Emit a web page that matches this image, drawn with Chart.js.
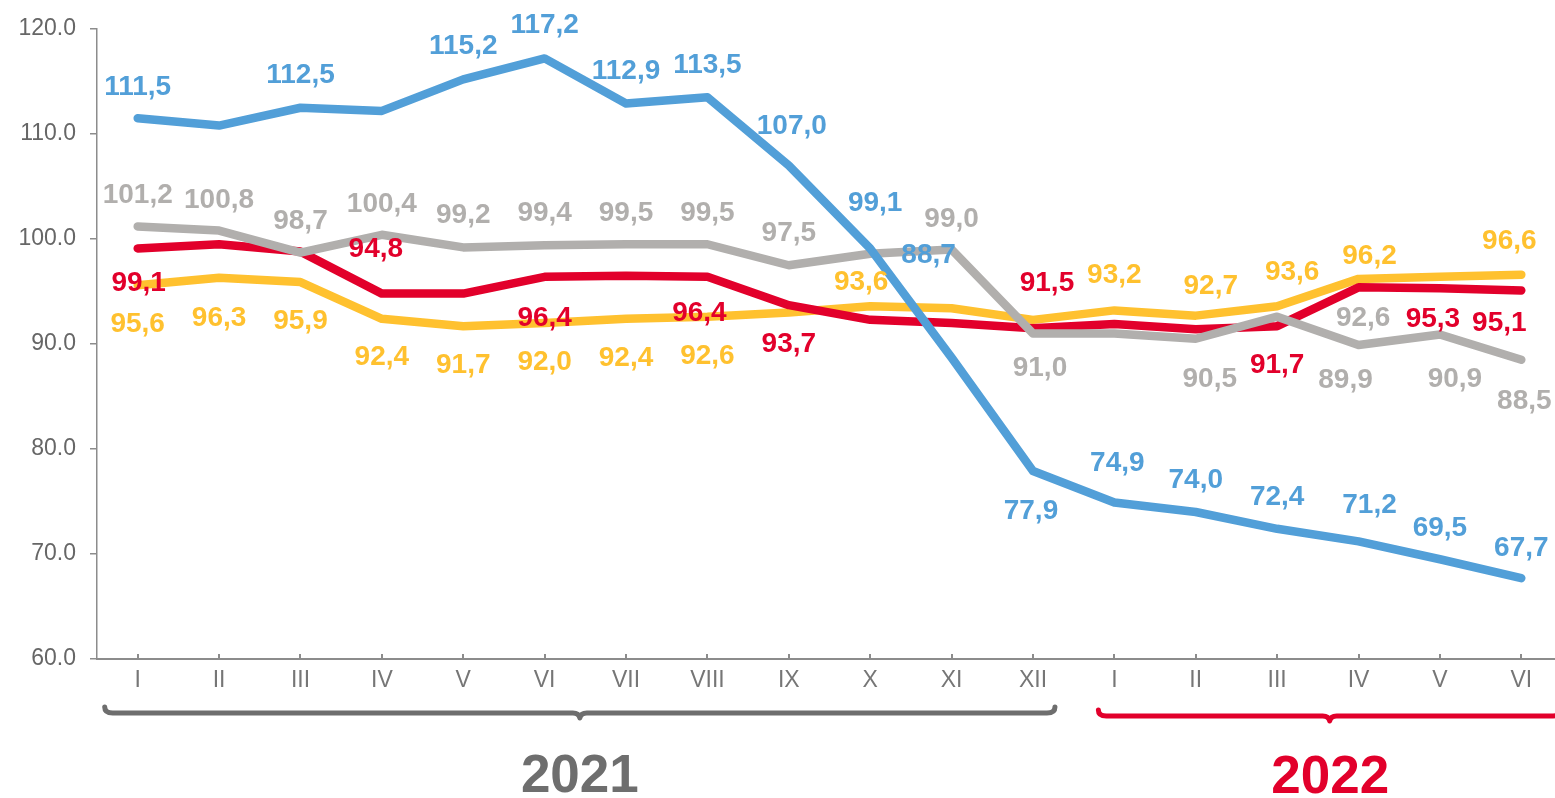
<!DOCTYPE html>
<html>
<head>
<meta charset="utf-8">
<script src="https://cdn.jsdelivr.net/npm/chart.js@4/dist/chart.umd.min.js"></script>
<style>
    html, body { margin: 0; padding: 0; background: #fff; overflow: hidden; }
    #wrap { position: relative; width: 1562px; height: 798px; }
</style>
</head>
<body>
<div id="wrap"><canvas id="chart"></canvas></div>
<script>
(function () {
    'use strict';

    const months = ['I', 'II', 'III', 'IV', 'V', 'VI', 'VII', 'VIII', 'IX', 'X', 'XI', 'XII',
                    'I', 'II', 'III', 'IV', 'V', 'VI'];
    const years  = ['2021', '2022'];

    const blueValues   = [111.5, 110.8, 112.5, 112.2, 115.2, 117.2, 112.9, 113.5, 107.0, 99.1, 88.7, 77.9,
                          74.9, 74.0, 72.4, 71.2, 69.5, 67.7];
    const grayValues   = [101.2, 100.8, 98.7, 100.4, 99.2, 99.4, 99.5, 99.5, 97.5, 98.6, 99.0, 91.0,
                          91.0, 90.5, 92.6, 89.9, 90.9, 88.5];
    const redValues    = [99.1, 99.5, 98.8, 94.8, 94.8, 96.4, 96.5, 96.4, 93.7, 92.3, 92.0, 91.5,
                          91.9, 91.4, 91.7, 95.4, 95.3, 95.1];
    const yellowValues = [95.6, 96.3, 95.9, 92.4, 91.7, 92.0, 92.4, 92.6, 93.0, 93.6, 93.4, 92.3,
                          93.2, 92.7, 93.6, 96.2, 96.4, 96.6];

    const yMin = 60, yMax = 120, yStep = 10;

    // label placement relative to the point (null = no label)
    const blueLabelPos = [[0, -33], null, [0, -35], null, [0, -35], [0, -35], [0, -35], [0, -34], [3, -42],
        [5, -48], [-23, -105], [-2, 38], [3, -42], [0, -34], [0, -34], [11, -38], [0, -33], [0, -32]];
    const grayLabelPos = [[0, -33], [0, -33], [0, -34], [0, -33], [0, -34], [0, -34], [0, -33], [0, -33], [0, -34],
        null, [0, -33], [7, 32], null, [14, 38], [86, -1], [-13, 33], [15, 42], [3, 39]];
    const redLabelPos = [[1, 32], null, null, [-6, -47], null, [0, 39], null, [-8, 34], [0, 37],
        null, null, [14, -47], null, null, [0, 37], null, [-7, 29], [-22, 30]];
    const yellowLabelPos = [[0, 37], [0, 38], [0, 37], [0, 36], [0, 37], [0, 37], [0, 37], [0, 37], null,
        [-9, -26], null, null, [0, -37], [15, -32], [15, -36], [11, -25], null, [-12, -36]];

    const COLORS = {
        blue:   '#529fd8',
        gray:   '#b1afad',
        red:    '#e2002b',
        yellow: '#ffc12f',
        axis:   '#8c8c8c',
        tick:   '#767676',
        y2021:  '#6e6e6e',
    };
    const FONT = '"Liberation Sans", Arial, sans-serif';
    const LABEL_SIZE = 28;

    function fmt(v) { return v.toFixed(1).replace('.', ','); }

    function series(data, color, pos) {
        return {
            data,
            borderColor: color,
            backgroundColor: color,
            borderWidth: 8.5,
            borderCapStyle: 'round',
            borderJoinStyle: 'round',
            pointRadius: 0,
            tension: 0,
            labelPos: pos,
        };
    }

    const valueLabels = {
        id: 'valueLabels',
        afterDatasetsDraw(chart) {
            const ctx = chart.ctx;
            ctx.save();
            ctx.font = `bold ${LABEL_SIZE}px ${FONT}`;
            ctx.textAlign = 'center';
            ctx.textBaseline = 'alphabetic';
            chart.data.datasets.forEach((ds, i) => {
                const meta = chart.getDatasetMeta(i);
                ctx.fillStyle = ds.borderColor;
                meta.data.forEach((pt, j) => {
                    const p = ds.labelPos[j];
                    if (!p) return;
                    ctx.fillText(fmt(ds.data[j]), pt.x + p[0], pt.y + p[1] + LABEL_SIZE * 0.36);
                });
            });
            ctx.restore();
        },
    };

    function brace(ctx, x0, x1, y, color) {
        const xm = (x0 + x1) / 2;
        const r = 8;
        ctx.beginPath();
        ctx.moveTo(x0, y - 6);
        ctx.quadraticCurveTo(x0, y, x0 + r, y);
        ctx.lineTo(xm - 7, y);
        ctx.quadraticCurveTo(xm - 1, y, xm, y + 5);
        ctx.quadraticCurveTo(xm + 1, y, xm + 7, y);
        ctx.lineTo(x1 - r, y);
        ctx.quadraticCurveTo(x1, y, x1, y - 6);
        ctx.strokeStyle = color;
        ctx.lineWidth = 5;
        ctx.lineCap = 'round';
        ctx.lineJoin = 'round';
        ctx.stroke();
    }

    const axisDecor = {
        id: 'axisDecor',
        afterDraw(chart) {
            const ctx = chart.ctx;
            const x = chart.scales.x;
            const area = chart.chartArea;
            ctx.save();

            // small inward ticks on the category axis
            ctx.strokeStyle = COLORS.axis;
            ctx.lineWidth = 2;
            months.forEach((m, i) => {
                const px = Math.round(x.getPixelForTick(i));
                ctx.beginPath();
                ctx.moveTo(px, area.bottom);
                ctx.lineTo(px, area.bottom - 5);
                ctx.stroke();
            });

            // year braces
            const a0 = x.getPixelForValue(0) - 33;
            const a1 = x.getPixelForValue(11) + 22;
            const b0 = x.getPixelForValue(12) - 16;
            const b1 = area.right;
            brace(ctx, a0, a1, 713, COLORS.y2021);
            brace(ctx, b0, b1 - 1, 716, COLORS.red);

            ctx.font = `bold 53px ${FONT}`;
            ctx.textAlign = 'center';
            ctx.textBaseline = 'alphabetic';
            ctx.fillStyle = COLORS.y2021;
            ctx.fillText(years[0], (a0 + a1) / 2, 773 + 53 * 0.36);
            ctx.fillStyle = COLORS.red;
            ctx.fillText(years[1], (b0 + b1) / 2, 774 + 53 * 0.36);

            ctx.restore();
        },
    };

    new Chart(document.getElementById('chart'), {
        type: 'line',
        data: {
            labels: months,
            datasets: [
                series(blueValues, COLORS.blue, blueLabelPos),
                series(grayValues, COLORS.gray, grayLabelPos),
                series(redValues, COLORS.red, redLabelPos),
                series(yellowValues, COLORS.yellow, yellowLabelPos),
            ],
        },
        options: {
            responsive: true,
            maintainAspectRatio: false,
            animation: false,
            layout: { padding: { top: 29, left: 0, right: 0, bottom: 0 } },
            plugins: {
                legend: { display: false },
                tooltip: { enabled: false },
            },
            scales: {
                x: {
                    offset: true,
                    grid: { display: true, drawOnChartArea: false, drawTicks: false, offset: false },
                    border: { color: COLORS.axis, width: 2 },
                    ticks: {
                        color: COLORS.tick,
                        font: { family: FONT, size: 23 },
                        padding: 8,
                        autoSkip: false,
                        maxRotation: 0,
                    },
                    afterFit: s => { s.height = 139; },
                },
                y: {
                    min: yMin,
                    max: yMax,
                    grid: { drawOnChartArea: false, drawTicks: true, tickLength: 7, color: COLORS.axis, lineWidth: 1.5 },
                    border: { color: COLORS.axis, width: 1.5 },
                    ticks: {
                        stepSize: yStep,
                        color: '#666666',
                        font: { family: FONT, size: 23 },
                        padding: 14,
                        callback: v => Number(v).toFixed(1),
                    },
                    afterFit: s => { s.width = 97; },
                },
            },
        },
        plugins: [valueLabels, axisDecor],
    });
})();
</script>
</body>
</html>
